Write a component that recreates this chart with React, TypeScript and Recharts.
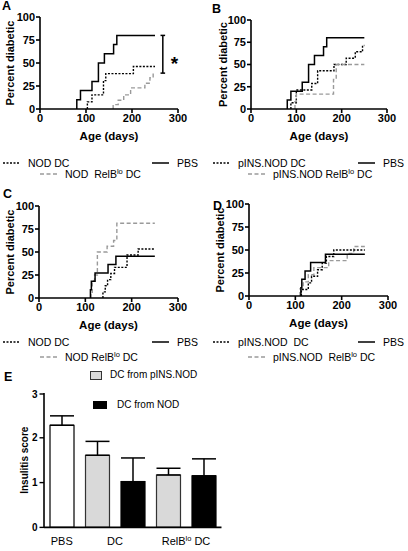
import React from "react";
import {
  LineChart,
  Line,
  XAxis,
  YAxis,
  ReferenceLine,
  BarChart,
  Bar,
  Cell,
  ErrorBar,
} from "recharts";

const FONT = '"Liberation Sans", Arial, Helvetica, sans-serif';
const END_DAY = 250;

// --- survival curves (event day, cumulative % diabetic) ---
const pbsDays = [80, 88, 113, 127, 140, 160, 167];
const pbsPct = [10, 20, 30, 50, 60, 70, 80];

const aNodDays = [103, 113, 138, 143, 203];
const aNodPct = [7.7, 15.4, 30.8, 38.5, 46.2];
const aRelbDays = [159, 170, 182, 197, 228, 239, 246];
const aRelbPct = [4.8, 9.5, 15.4, 23, 28, 34, 39];

const bInsDays = [88, 100, 134, 147, 183, 210, 230, 246];
const bInsPct = [7.1, 21.4, 28.6, 42.9, 50, 57.1, 64.3, 71.4];
const bRelbDays = [97, 100, 182, 188];
const bRelbPct = [8.3, 16.7, 33.3, 50];

const cPbsDays = [111, 113, 121, 149, 166];
const cPbsPct = [9.1, 18.2, 27.3, 36.4, 45.5];
const cNodDays = [138, 143, 148, 155, 163, 190, 214];
const cNodPct = [6.7, 13.3, 20, 26.7, 33.3, 46.7, 53.3];
const cRelbDays = [112, 115, 120, 126, 147, 161, 168];
const cRelbPct = [6.25, 18.75, 25, 50, 56.25, 62.5, 81.25];

const dPbsDays = [112, 114, 121, 133, 165];
const dPbsPct = [9.1, 18.2, 27.3, 36.4, 45.5];
const dInsDays = [113, 128, 135, 148, 158, 167, 183];
const dInsPct = [7.1, 14.3, 21.4, 28.6, 35.7, 42.9, 50];
const dRelbDays = [110, 117, 128, 140, 172, 212, 226];
const dRelbPct = [7.7, 15.4, 23.1, 30.8, 38.5, 46.2, 53.8];

const ageTicks = [0, 100, 200, 300];
const pctTicks = [0, 25, 50, 75, 100];

// --- insulitis (panel E) ---
const eGroup = ["PBS", "DC", "DC", "RelBlo", "RelBlo"];
const eDonor = ["none", "pINS", "NOD", "pINS", "NOD"];
const eMean = [2.28, 1.61, 1.02, 1.17, 1.15];
const eSem = [0.21, 0.31, 0.53, 0.15, 0.38];
const scoreTicks = [0, 0.5, 1, 1.5, 2, 2.5, 3];

type Pt = { day: number; pct: number };
type Kind = "solid" | "dotted" | "dashed";

function toCurve(days: number[], pct: number[]): Pt[] {
  const pts: Pt[] = [{ day: days[0], pct: 0 }];
  days.forEach((d, i) => pts.push({ day: d, pct: pct[i] }));
  pts.push({ day: END_DAY, pct: pct[pct.length - 1] });
  return pts;
}

const lineStyle: Record<Kind, { stroke: string; strokeWidth: number; strokeDasharray?: string }> = {
  solid: { stroke: "#000", strokeWidth: 1.5 },
  dotted: { stroke: "#000", strokeWidth: 1.4, strokeDasharray: "2 1.5" },
  dashed: { stroke: "#9a9a9a", strokeWidth: 1.4, strokeDasharray: "4 2.5" },
};

const boldTick = { fill: "#000", fontSize: 11, fontWeight: "bold", fontFamily: FONT };
const axisLn = { stroke: "#000", strokeWidth: 1.6 };

type PanelProps = {
  axisX: number;
  topY: number;
  plotW: number;
  plotH: number;
  titleOffset: number;
  series: { key: string; data: Pt[]; kind: Kind }[];
  children?: React.ReactNode;
};

function KMPanel({ axisX, topY, plotW, plotH, titleOffset, series, children }: PanelProps) {
  const YW = 40;
  const MT = 8;
  const MR = 14;
  const XH = 34;
  return (
    <div style={{ position: "absolute", left: axisX - YW, top: topY - MT }}>
      <LineChart
        width={YW + plotW + MR}
        height={MT + plotH + XH}
        margin={{ top: MT, right: MR, left: 0, bottom: 0 }}
      >
        <XAxis
          type="number"
          dataKey="day"
          domain={[0, 300]}
          ticks={ageTicks}
          height={XH}
          axisLine={axisLn}
          tickLine={axisLn}
          tickSize={4}
          tickMargin={1}
          tick={boldTick}
          label={{
            value: "Age (days)",
            position: "insideBottom",
            offset: 3,
            style: { fill: "#000", fontSize: 11.5, fontWeight: "bold", fontFamily: FONT },
          }}
        />
        <YAxis
          type="number"
          domain={[0, 100]}
          ticks={pctTicks}
          width={YW}
          axisLine={axisLn}
          tickLine={axisLn}
          tickSize={4}
          tickMargin={1}
          tick={boldTick}
          label={{
            value: "Percent diabetic",
            angle: -90,
            position: "insideLeft",
            offset: titleOffset,
            style: {
              textAnchor: "middle",
              fill: "#000",
              fontSize: 11,
              fontWeight: "bold",
              fontFamily: FONT,
            },
          }}
        />
        {series.map((s) => (
          <Line
            key={s.key}
            data={s.data}
            dataKey="pct"
            type="stepAfter"
            dot={false}
            activeDot={false}
            isAnimationActive={false}
            {...lineStyle[s.kind]}
          />
        ))}
        {children}
      </LineChart>
    </div>
  );
}

function LegendItem({ x, y, kind, children }: { x: number; y: number; kind: Kind; children: React.ReactNode }) {
  const st = lineStyle[kind];
  return (
    <div
      style={{
        position: "absolute",
        left: x,
        top: y - 7,
        height: 14,
        display: "flex",
        alignItems: "center",
        whiteSpace: "pre",
        fontSize: 10.5,
        fontFamily: FONT,
        color: "#000",
      }}
    >
      <svg width={17} height={6} style={{ marginRight: 8 }}>
        <line x1={0} y1={3} x2={17} y2={3} stroke={st.stroke} strokeWidth={st.strokeWidth} strokeDasharray={st.strokeDasharray} />
      </svg>
      <span>{children}</span>
    </div>
  );
}

const Lo = () => <sup style={{ fontSize: 7.5, verticalAlign: 4, lineHeight: 0 }}>lo</sup>;

function PanelLetter({ x, y, text }: { x: number; y: number; text: string }) {
  return (
    <div
      style={{
        position: "absolute",
        left: x,
        top: y,
        fontSize: 12.5,
        lineHeight: "13px",
        fontWeight: "bold",
        fontFamily: FONT,
      }}
    >
      {text}
    </div>
  );
}

// panel E geometry
const E_AXIS_X = 44.3;
const E_TOP = 393.3;
const E_PLOT_H = 134.4;
const E_PLOT_W = 177.5;

const donorFill: Record<string, string> = { none: "#ffffff", pINS: "#d9d9d9", NOD: "#000000" };

const eData = eGroup.map((g, i) => ({
  name: `${g}-${eDonor[i]}`,
  group: g,
  donor: eDonor[i],
  mean: eMean[i],
  err: [0, eSem[i]],
}));

function GroupTick(props: any) {
  const { x, y, index } = props;
  const g = eGroup[index];
  if (index > 0 && eGroup[index - 1] === g) return null;
  const size = eGroup.filter((v) => v === g).length;
  const step = E_PLOT_W / eGroup.length;
  const cx = x + ((size - 1) * step) / 2;
  const style = { fontSize: 11, fontFamily: FONT, fill: "#000" };
  if (g === "RelBlo") {
    return (
      <text x={cx} y={y + 18} textAnchor="middle" style={style}>
        RelB
        <tspan fontSize={7.5} dy={-4}>lo</tspan>
        <tspan dy={4}> DC</tspan>
      </text>
    );
  }
  return (
    <text x={cx} y={y + 18} textAnchor="middle" style={style}>
      {g}
    </text>
  );
}

function ScoreTick(props: any) {
  const { x, y, payload } = props;
  const major = Number.isInteger(payload.value);
  return (
    <g>
      <line x1={x} y1={y} x2={x - (major ? 4.5 : 3)} y2={y} stroke="#000" strokeWidth={1.4} />
      {major && (
        <text x={x - 6.5} y={y + 3.6} textAnchor="end" style={{ fontSize: 10, fontWeight: "bold", fontFamily: FONT, fill: "#000" }}>
          {payload.value}
        </text>
      )}
    </g>
  );
}

function InsulitisPanel() {
  const YW = 40;
  const MT = 8;
  const XH = 24;
  return (
    <div style={{ position: "absolute", left: E_AXIS_X - YW, top: E_TOP - MT }}>
      <BarChart
        width={YW + E_PLOT_W + 6}
        height={MT + E_PLOT_H + XH}
        data={eData}
        margin={{ top: MT, right: 6, left: 0, bottom: 0 }}
      >
        <XAxis
          dataKey="name"
          interval={0}
          height={XH}
          axisLine={axisLn}
          tickLine={false}
          tickSize={0}
          tickMargin={0}
          tick={<GroupTick />}
        />
        <YAxis
          type="number"
          domain={[0, 3]}
          ticks={scoreTicks}
          width={YW}
          axisLine={axisLn}
          tickLine={false}
          tickSize={0}
          tickMargin={0}
          tick={<ScoreTick />}
          label={{
            value: "Insulitis score",
            angle: -90,
            position: "insideLeft",
            offset: 20,
            style: { textAnchor: "middle", fill: "#000", fontSize: 10, fontWeight: "bold", fontFamily: FONT },
          }}
        />
        <Bar dataKey="mean" barSize={24} stroke="#000" strokeWidth={1.2} isAnimationActive={false}>
          {eData.map((d) => (
            <Cell key={d.name} fill={donorFill[d.donor]} stroke={d.donor === "pINS" ? "#333" : "#000"} />
          ))}
          <ErrorBar dataKey="err" direction="y" width={12} stroke="#000" strokeWidth={1.5} />
        </Bar>
      </BarChart>
    </div>
  );
}

export default function App() {
  const pbs = toCurve(pbsDays, pbsPct);
  const pbsTop = pbsPct[pbsPct.length - 1];
  const relbTop = aRelbPct[aRelbPct.length - 1];
  return (
    <div
      style={{
        position: "absolute",
        left: 0,
        top: 0,
        width: 408,
        height: 551,
        background: "#fff",
        fontFamily: FONT,
        overflow: "hidden",
      }}
    >
      <KMPanel
        axisX={40}
        topY={17}
        plotW={138}
        plotH={92}
        titleOffset={10}
        series={[
          { key: "pbs", data: pbs, kind: "solid" },
          { key: "nod", data: toCurve(aNodDays, aNodPct), kind: "dotted" },
          { key: "relb", data: toCurve(aRelbDays, aRelbPct), kind: "dashed" },
        ]}
      >
        <ReferenceLine
          segment={[{ x: 267, y: pbsTop }, { x: 267, y: relbTop }]}
          stroke="#000"
          strokeWidth={1.5}
          label={{ value: "*", position: "right", offset: 8, dy: 9, style: { fill: "#000", fontSize: 19, fontWeight: "bold", fontFamily: FONT } }}
        />
        <ReferenceLine segment={[{ x: 262, y: pbsTop }, { x: 272, y: pbsTop }]} stroke="#000" strokeWidth={1.5} />
        <ReferenceLine segment={[{ x: 262, y: relbTop }, { x: 272, y: relbTop }]} stroke="#000" strokeWidth={1.5} />
      </KMPanel>

      <KMPanel
        axisX={251}
        topY={20}
        plotW={136}
        plotH={89}
        titleOffset={12}
        series={[
          { key: "pbs", data: pbs, kind: "solid" },
          { key: "ins", data: toCurve(bInsDays, bInsPct), kind: "dotted" },
          { key: "relb", data: toCurve(bRelbDays, bRelbPct), kind: "dashed" },
        ]}
      />

      <KMPanel
        axisX={39}
        topY={206}
        plotW={139}
        plotH={92}
        titleOffset={11}
        series={[
          { key: "relb", data: toCurve(cRelbDays, cRelbPct), kind: "dashed" },
          { key: "nod", data: toCurve(cNodDays, cNodPct), kind: "dotted" },
          { key: "pbs", data: toCurve(cPbsDays, cPbsPct), kind: "solid" },
        ]}
      />

      <KMPanel
        axisX={249}
        topY={204}
        plotW={139}
        plotH={92}
        titleOffset={11}
        series={[
          { key: "relb", data: toCurve(dRelbDays, dRelbPct), kind: "dashed" },
          { key: "ins", data: toCurve(dInsDays, dInsPct), kind: "dotted" },
          { key: "pbs", data: toCurve(dPbsDays, dPbsPct), kind: "solid" },
        ]}
      />

      <InsulitisPanel />

      {/* legends */}
      <LegendItem x={3} y={163} kind="dotted">NOD DC</LegendItem>
      <LegendItem x={152} y={163} kind="solid">PBS</LegendItem>
      <LegendItem x={40} y={174} kind="dashed">NOD  RelB<Lo /> DC</LegendItem>

      <LegendItem x={213} y={163} kind="dotted">pINS.NOD DC</LegendItem>
      <LegendItem x={358} y={163} kind="solid">PBS</LegendItem>
      <LegendItem x={248} y={174} kind="dashed">pINS.NOD RelB<Lo /> DC</LegendItem>

      <LegendItem x={3} y={342} kind="dotted">NOD DC</LegendItem>
      <LegendItem x={152} y={342} kind="solid">PBS</LegendItem>
      <LegendItem x={40} y={357} kind="dashed">NOD RelB<Lo /> DC</LegendItem>

      <LegendItem x={213} y={342} kind="dotted">pINS.NOD  DC</LegendItem>
      <LegendItem x={358} y={342} kind="solid">PBS</LegendItem>
      <LegendItem x={248} y={357} kind="dashed">pINS.NOD  RelB<Lo /> DC</LegendItem>

      {/* panel E legend */}
      <div style={{ position: "absolute", left: 90, top: 371, width: 10, height: 7, background: "#d9d9d9", border: "1px solid #333" }} />
      <div style={{ position: "absolute", left: 110, top: 368, fontSize: 10, lineHeight: "14px", fontFamily: FONT }}>DC from pINS.NOD</div>
      <div style={{ position: "absolute", left: 93, top: 401, width: 14, height: 8, background: "#000" }} />
      <div style={{ position: "absolute", left: 117, top: 398, fontSize: 10, lineHeight: "14px", fontFamily: FONT }}>DC from NOD</div>

      <PanelLetter x={2} y={0} text="A" />
      <PanelLetter x={212} y={3} text="B" />
      <PanelLetter x={3} y={188} text="C" />
      <PanelLetter x={213} y={200} text="D" />
      <PanelLetter x={4} y={371} text="E" />
    </div>
  );
}
